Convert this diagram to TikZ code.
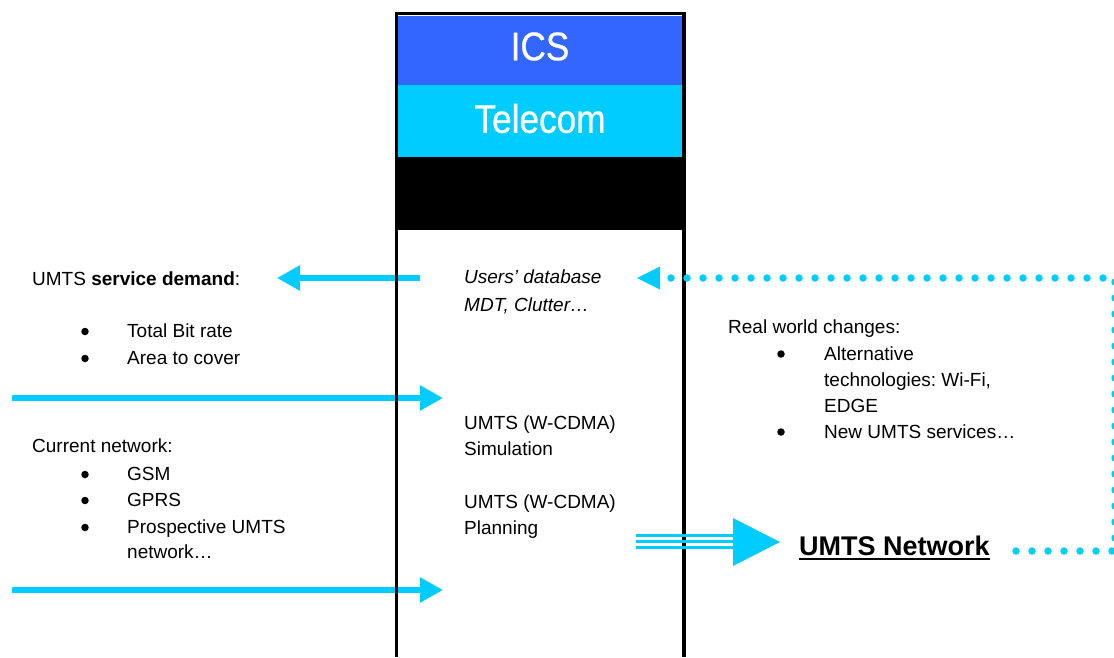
\documentclass[tikz,border=0pt]{standalone}
\usepackage{fontspec}
\setmainfont{Liberation Sans}
\newfontfamily\condfont[FakeStretch=0.88,FakeBold=0.6]{Liberation Sans}
\usetikzlibrary{arrows.meta}
\definecolor{icsblue}{HTML}{3366FF}
\definecolor{tcyan}{HTML}{00CCFF}
\frenchspacing
\begin{document}
\begin{tikzpicture}[x=1pt,y=-1pt,
  txt/.style={anchor=base west,inner sep=0pt,font=\fontsize{19}{23}\selectfont},
  itxt/.style={txt,font=\fontsize{19}{23}\selectfont\itshape},
  head/.style={anchor=center,inner sep=0pt,text=white,font=\condfont\fontsize{40}{46}\selectfont},
  bul/.style={circle,fill=black,inner sep=0pt,minimum size=7.5pt},
  fatarrow/.style={tcyan,line width=6.5pt,-{Triangle[length=23pt,width=24pt]}},
  thinbar/.style={tcyan,line width=2.5pt},
  dotline/.style={tcyan,line width=7.5pt,line cap=round,dash pattern=on 0pt off 16pt},
  boxline/.style={black,line width=3.5pt}]
\useasboundingbox (0,0) rectangle (1114,657);

% header bands
\fill[icsblue] (398,16) rectangle (682,85);
\fill[tcyan] (398,85) rectangle (682,157);
\fill[black] (398,157) rectangle (682,230);
\node[head] (ics) at (540,46.5) {ICS};
\node[head] (tel) at (540,118.5) {Telecom};

% left text
\node[txt] (demand) at (32,285) {UMTS \textbf{service demand}:};
\node[bul] (b1) at (85,331.5) {};
\node[txt] (t1) at (127,337) {Total Bit rate};
\node[bul] (b2) at (85,358.5) {};
\node[txt] (t2) at (127,364) {Area to cover};
\node[txt] (cur) at (32,452) {Current network:};
\node[bul] (b3) at (85,474.5) {};
\node[txt] (t3) at (127,480) {GSM};
\node[bul] (b4) at (85,500.5) {};
\node[txt] (t4) at (127,506) {GPRS};
\node[bul] (b5) at (85,527.5) {};
\node[txt] (t5) at (127,533) {Prospective UMTS};
\node[txt] (t5b) at (127,558) {network…};

% middle text
\node[itxt] (users) at (464,283) {Users’ database};
\node[itxt] (mdt) at (464,311) {MDT, Clutter…};
\node[txt] (sim1) at (464,429) {UMTS (W-CDMA)};
\node[txt] (sim2) at (464,455) {Simulation};
\node[txt] (plan1) at (464,508) {UMTS (W-CDMA)};
\node[txt] (plan2) at (464,534) {Planning};

% right text
\node[txt] (real) at (728,333) {Real world changes:};
\node[bul] (b6) at (781,354) {};
\node[txt] (t6) at (824,360) {Alternative};
\node[txt] (t6b) at (824,386) {technologies: Wi-Fi,};
\node[txt] (t6c) at (824,412) {EDGE};
\node[bul] (b7) at (781,432) {};
\node[txt] (t7) at (824,438) {New UMTS services…};
\node[anchor=base west,inner sep=0pt,font=\fontsize{27}{32}\selectfont\bfseries] (net) at (799,555) {UMTS Network};
\draw[line width=1.6pt] ([yshift=-4pt]net.base west) -- ([yshift=-4pt]net.base east);

% fat arrows
\coordinate (aL1) at (420,278);
\coordinate (aL2) at (277,278);
\coordinate (aR1) at (12,398);
\coordinate (aR2) at (443,398);
\coordinate (aB1) at (12,590);
\coordinate (aB2) at (443,590);
\draw[fatarrow] (aL1) -- (aL2);
\draw[fatarrow] (aR1) -- (aR2);
\draw[fatarrow] (aB1) -- (aB2);

% box outline
\draw[boxline] (396.5,657) -- (396.5,13.5) -- (684,13.5) -- (684,657);

% triple arrow to UMTS Network
\coordinate (pS) at (636,541.5);
\coordinate (pE) at (734,541.5);
\draw[thinbar] ([yshift=6pt]pS) -- ([yshift=6pt]pE);
\draw[thinbar] (pS) -- (pE);
\draw[thinbar] ([yshift=-6pt]pS) -- ([yshift=-6pt]pE);
\fill[tcyan] (733,518) -- (780,542) -- (733,566) -- cycle;

% dotted feedback loop
\coordinate (dA) at (1016,551);
\coordinate (dB) at (1115,551);
\coordinate (dC) at (1115,278);
\coordinate (dD) at (668,278);
\draw[dotline] (dA) -- (dB) -- (dC) -- (dD);
\fill[tcyan] (637,278) -- (660,266.5) -- (660,289.5) -- cycle;
\end{tikzpicture}
\end{document}
